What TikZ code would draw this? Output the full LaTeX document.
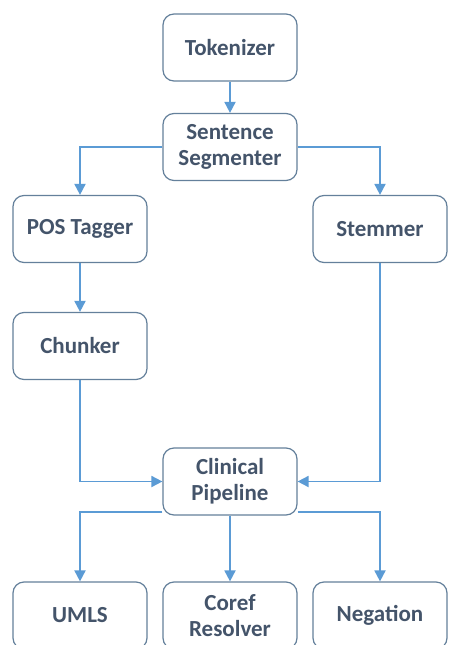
\documentclass[tikz,border=0pt]{standalone}
\usepackage{fontspec}
\setmainfont{Carlito}
\usetikzlibrary{arrows.meta,calc}
\definecolor{boxc}{RGB}{100,128,155}
\definecolor{txtc}{RGB}{68,84,106}
\definecolor{arrc}{RGB}{91,155,213}
\tikzset{
  stage/.style={draw=boxc, line width=1.2pt, rounded corners=11pt, fill=white,
    minimum width=134pt, minimum height=67pt, align=center, inner sep=2pt,
    text=txtc, font=\fontsize{23}{26}\selectfont\bfseries},
  flow/.style={draw=arrc, line width=1.8pt, -{Triangle[length=11pt,width=11pt]}}
}
\begin{document}
\begin{tikzpicture}[x=1pt,y=-1pt]
\useasboundingbox (0,0) rectangle (448,645);
\clip (0,0) rectangle (448,645);
\fill[white] (0,0) rectangle (448,645);
\node[stage] (tok) at (230,47.5) {Tokenizer};
\node[stage] (seg) at (230,147) {Sentence\\Segmenter};
\node[stage] (pos) at (80,229) {POS Tagger};
\node[stage] (stem) at (380,229) {Stemmer};
\node[stage] (chunk) at (80,346) {Chunker};
\node[stage] (cp) at (230,481.5) {Clinical\\Pipeline};
\node[stage] (umls) at (80,615.5) {UMLS};
\node[stage] (coref) at (230,615.5) {Coref\\Resolver};
\node[stage] (neg) at (380,615.5) {Negation};
\coordinate (cpl) at ($(cp.south west)+(0,-4)$);
\coordinate (cpr) at ($(cp.south east)+(0,-4)$);
\draw[flow] (tok.south) -- (seg.north);
\draw[flow] (seg.west) -| (pos.north);
\draw[flow] (seg.east) -| (stem.north);
\draw[flow] (pos.south) -- (chunk.north);
\draw[flow] (chunk.south) |- (cp.west);
\draw[flow] (stem.south) |- (cp.east);
\draw[flow] (cpl) -| (umls.north);
\draw[flow] (cp.south) -- (coref.north);
\draw[flow] (cpr) -| (neg.north);
\end{tikzpicture}
\end{document}
